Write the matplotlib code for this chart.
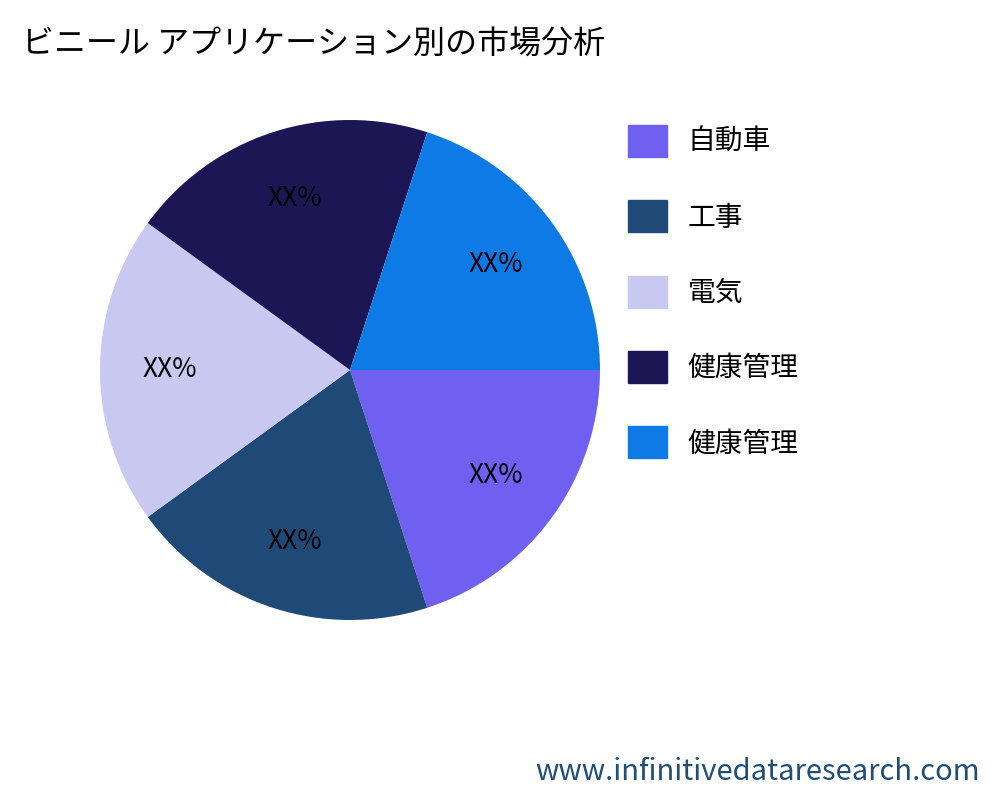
import matplotlib
matplotlib.use("Agg")
import matplotlib.pyplot as plt
import matplotlib.patches as mpatches

plt.rcParams['font.family'] = ['Noto Sans CJK JP', 'DejaVu Sans']

# ── data ──
categories = ['自動車', '工事', '電気', '健康管理', '健康管理']
values     = [20, 20, 20, 20, 20]
labels     = ['XX%'] * 5
colors     = ['#7060f2', '#1f4a78', '#c8c8f0', '#1c1654', '#0d7ae6']

fig = plt.figure(figsize=(10, 8), dpi=100)
ax = fig.add_axes([0.10, 0.225, 0.50, 0.625])

wedges, texts = ax.pie(values, colors=colors, startangle=0, counterclock=False,
                       labels=labels, labeldistance=0.72,
                       textprops={'fontsize': 19, 'color': 'black'})
for t in texts:
    t.set_ha('center'); t.set_va('center')
ax.set_xlim(-1, 1); ax.set_ylim(-1, 1)
ax.set_aspect('equal')

fig.text(0.022, 0.945, 'ビニール アプリケーション別の市場分析', fontsize=23,
         ha='left', va='center', color='black')

handles = [mpatches.Patch(color=c, label=l) for c, l in zip(colors, categories)]
fig.legend(handles=handles, loc='upper left', bbox_to_anchor=(0.603, 0.875),
           frameon=False, fontsize=20, handlelength=1.4, handleheight=1.4,
           labelspacing=1.55, handletextpad=0.75)

fig.text(0.98, 0.035, 'www.infinitivedataresearch.com', fontsize=21,
         ha='right', va='center', color='#1f4e79')

fig.savefig('out.png', dpi=100)
